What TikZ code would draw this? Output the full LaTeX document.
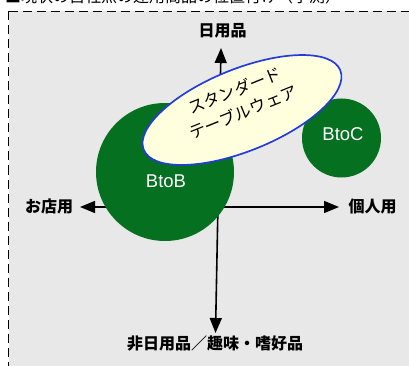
\documentclass[tikz,border=0pt]{standalone}
\usepackage{fontspec}
\setmainfont{Liberation Sans}
\newfontfamily\jp{Noto Sans CJK JP}
\usetikzlibrary{arrows.meta,shapes.geometric}
\definecolor{bggray}{RGB}{232,232,232}
\definecolor{dgreen}{RGB}{4,112,32}
\definecolor{lyellow}{RGB}{255,255,221}
\definecolor{eblue}{RGB}{35,60,220}
\begin{document}
\begin{tikzpicture}[x=1pt,y=-1pt,
  axislab/.style={font=\jp\bfseries\fontsize{16}{18}\selectfont, inner sep=0pt},
  axisline/.style={line width=1.6pt, {Triangle[length=15pt,width=12pt]}-{Triangle[length=15pt,width=12pt]}},
  bubble/.style={circle, fill=dgreen, inner sep=0pt},
  bubblelab/.style={text=white, font=\fontsize{18.5}{20}\selectfont, inner sep=0pt},
  border/.style={line width=1.5pt, dash pattern=on 9pt off 5pt}]
\useasboundingbox (0,0) rectangle (409,366);
\clip (0,0) rectangle (409,366);
% caption (cut off at top)
\node[anchor=base west, inner sep=0pt, font=\jp\fontsize{16}{18}\selectfont] (cap) at (5,3) {■現状の自社点の運用商品の位置付け（予測）};
% background panel
\fill[bggray] (8.5,11.5) rectangle (409,366);
\coordinate (corner) at (8.5,11.5);
\coordinate (cbot) at (8.5,366);
\coordinate (cright) at (409,11.5);
\draw[border] (corner) -- (cbot);
\draw[border] (corner) -- (cright);
% axis labels
\node[axislab] (top) at (222.5,31) {日用品};
\node[axislab] (bot) at (215,343.5) {非日用品／趣味・嗜好品};
\node[axislab] (left) at (49,206) {お店用};
\node[axislab] (right) at (372.5,206) {個人用};
% axes
\coordinate (tipT) at (221,48);
\coordinate (tipB) at (215.5,333);
\coordinate (tipL) at (80,207);
\coordinate (tipR) at (339,207);
\draw[axisline] (tipB) -- (tipT);
\draw[axisline] (tipL) -- (tipR);
% bubbles
\node[bubble, minimum size=138pt] (btob) at (165,172) {};
\node[bubblelab] (btobl) at (166,181.5) {BtoB};
\node[bubble, minimum size=79pt] (btoc) at (341.5,138) {};
\node[bubblelab] (btocl) at (343,134.5) {BtoC};
% standard tableware ellipse
\node[ellipse, draw=eblue, line width=1.7pt, fill=lyellow, minimum width=212pt, minimum height=82pt, inner sep=0pt, rotate=22] (std) at (242,110) {};
\node[rotate=22, align=center, inner sep=0pt, font=\jp\fontsize{16.5}{23}\selectfont] (stdtxt) at (239,101) {スタンダード\\テーブルウェア};
\end{tikzpicture}
\end{document}
